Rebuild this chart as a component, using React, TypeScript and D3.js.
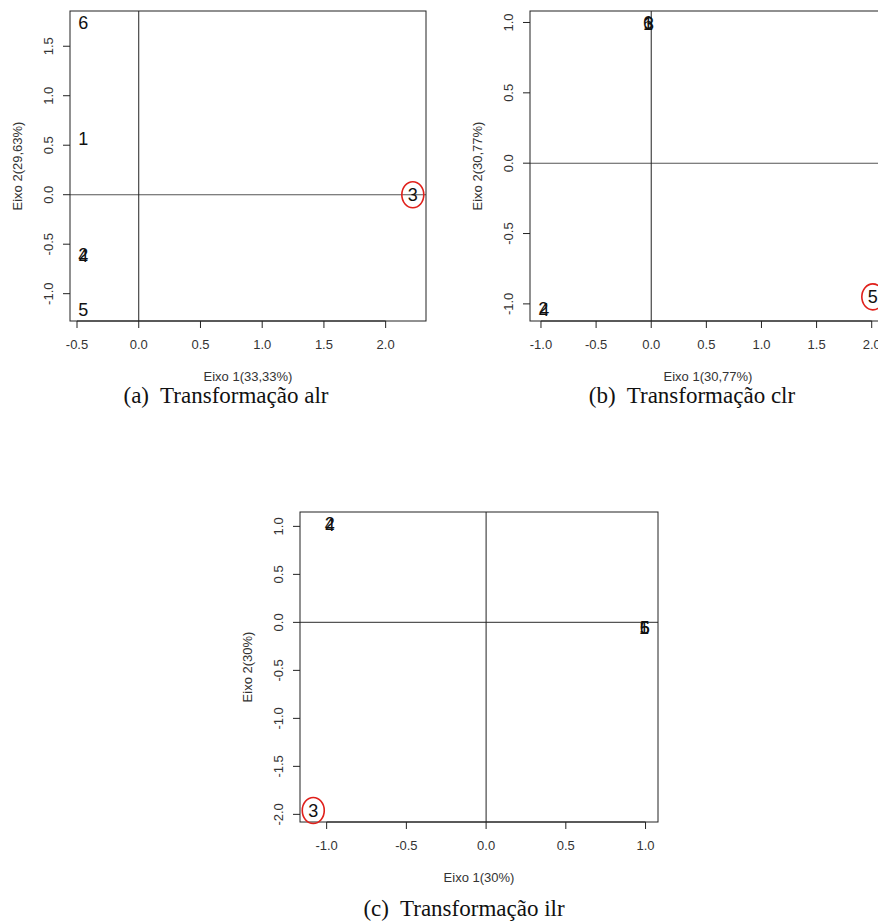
import React from "react";
import * as d3 from "d3";

// Sample labels shared by the three biplots
const labels = ["1", "2", "3", "4", "5", "6"];

// (a) alr coordinates
const alrX = [-0.45, -0.45, 2.22, -0.45, -0.45, -0.45];
const alrY = [0.57, -0.6, 0.0, -0.61, -1.16, 1.74];
const alrXTicks = [-0.5, 0.0, 0.5, 1.0, 1.5, 2.0];
const alrYTicks = [-1.0, -0.5, 0.0, 0.5, 1.0, 1.5];

// (b) clr coordinates
const clrX = [-0.03, -0.98, -0.02, -0.97, 2.01, -0.03];
const clrY = [0.99, -1.03, 0.99, -1.04, -0.95, 1.0];
const clrXTicks = [-1.0, -0.5, 0.0, 0.5, 1.0, 1.5, 2.0];
const clrYTicks = [-1.0, -0.5, 0.0, 0.5, 1.0];

// (c) ilr coordinates
const ilrX = [0.99, -0.98, -1.084, -0.98, 0.995, 0.995];
const ilrY = [-0.05, 1.03, -1.96, 1.02, -0.05, -0.05];
const ilrXTicks = [-1.0, -0.5, 0.0, 0.5, 1.0];
const ilrYTicks = [-2.0, -1.5, -1.0, -0.5, 0.0, 0.5, 1.0];

type PanelProps = {
  xs: number[];
  ys: number[];
  xTicks: number[];
  yTicks: number[];
  circled: string;
  xTitle: string;
  yTitle: string;
  left: number;
  top: number;
  width: number;
  height: number;
};

// R-style domain: data range padded by 4% on each side
function padded(vals: number[]): [number, number] {
  const [lo, hi] = d3.extent(vals) as [number, number];
  const pad = (hi - lo) * 0.04;
  return [lo - pad, hi + pad];
}

const sans = "'Liberation Sans', Arial, sans-serif";

function Panel(p: PanelProps) {
  const right = p.left + p.width;
  const bottom = p.top + p.height;
  const x = d3.scaleLinear().domain(padded(p.xs)).range([p.left, right]);
  const y = d3.scaleLinear().domain(padded(p.ys)).range([bottom, p.top]);
  const tickLen = 7;
  const cx = (p.left + right) / 2;
  const cy = (p.top + bottom) / 2;
  const pts = labels.map((l, i) => ({ l, px: x(p.xs[i]), py: y(p.ys[i]) }));
  return (
    <g>
      {/* reference lines through the origin */}
      <line x1={p.left} x2={right} y1={y(0)} y2={y(0)} stroke="#555" strokeWidth={1.1} />
      <line x1={x(0)} x2={x(0)} y1={p.top} y2={bottom} stroke="#222" strokeWidth={1} />
      {/* plot box */}
      <rect x={p.left} y={p.top} width={p.width} height={p.height} fill="none" stroke="#222" strokeWidth={1} />
      {/* x axis */}
      <line x1={x(p.xTicks[0])} x2={x(p.xTicks[p.xTicks.length - 1])} y1={bottom} y2={bottom} stroke="#222" />
      {p.xTicks.map((t) => (
        <g key={"x" + t}>
          <line x1={x(t)} x2={x(t)} y1={bottom} y2={bottom + tickLen} stroke="#222" />
          <text x={x(t)} y={bottom + 23} dy="0.35em" textAnchor="middle" fontSize={13} fontFamily={sans} fill="#333">
            {t.toFixed(1)}
          </text>
        </g>
      ))}
      {/* y axis */}
      {p.yTicks.map((t) => (
        <g key={"y" + t}>
          <line x1={p.left - tickLen} x2={p.left} y1={y(t)} y2={y(t)} stroke="#222" />
          <text
            transform={`translate(${p.left - 22},${y(t)}) rotate(-90)`}
            dy="0.35em"
            textAnchor="middle"
            fontSize={13}
            fontFamily={sans}
            fill="#333"
          >
            {t.toFixed(1)}
          </text>
        </g>
      ))}
      {/* axis titles */}
      <text x={cx} y={bottom + 55} dy="0.35em" textAnchor="middle" fontSize={13} fontFamily={sans} fill="#333">
        {p.xTitle}
      </text>
      <text
        transform={`translate(${p.left - 53},${cy}) rotate(-90)`}
        dy="0.35em"
        textAnchor="middle"
        fontSize={13}
        fontFamily={sans}
        fill="#333"
      >
        {p.yTitle}
      </text>
      {/* sample labels */}
      {pts.map((d) => (
        <text key={d.l} x={d.px} y={d.py} dy="0.36em" textAnchor="middle" fontSize={18} fontFamily={sans} fill="#111">
          {d.l}
        </text>
      ))}
      {/* highlighted sample */}
      {pts
        .filter((d) => d.l === p.circled)
        .map((d) => (
          <ellipse key={"c" + d.l} cx={d.px} cy={d.py} rx={11} ry={13} fill="none" stroke="#e0201b" strokeWidth={1.6} />
        ))}
    </g>
  );
}

const serif = "'Liberation Serif', 'Times New Roman', serif";

export default function App() {
  return (
    <svg
      width={878}
      height={922}
      style={{ position: "absolute", left: 0, top: 0, background: "#fff" }}
    >
      <rect width={878} height={922} fill="#fff" />
      <Panel
        xs={alrX}
        ys={alrY}
        xTicks={alrXTicks}
        yTicks={alrYTicks}
        circled="3"
        xTitle="Eixo 1(33,33%)"
        yTitle="Eixo 2(29,63%)"
        left={70}
        top={11}
        width={356}
        height={310}
      />
      <Panel
        xs={clrX}
        ys={clrY}
        xTicks={clrXTicks}
        yTicks={clrYTicks}
        circled="5"
        xTitle="Eixo 1(30,77%)"
        yTitle="Eixo 2(30,77%)"
        left={530}
        top={11}
        width={356}
        height={310}
      />
      <Panel
        xs={ilrX}
        ys={ilrY}
        xTicks={ilrXTicks}
        yTicks={ilrYTicks}
        circled="3"
        xTitle="Eixo 1(30%)"
        yTitle="Eixo 2(30%)"
        left={300}
        top={512}
        width={358}
        height={310}
      />
      <text x={226} y={395} dy="0.35em" textAnchor="middle" fontSize={23} fontFamily={serif} fill="#111" xmlSpace="preserve">
        (a)  Transformação alr
      </text>
      <text x={692} y={395} dy="0.35em" textAnchor="middle" fontSize={23} fontFamily={serif} fill="#111" xmlSpace="preserve">
        (b)  Transformação clr
      </text>
      <text x={464} y={908} dy="0.35em" textAnchor="middle" fontSize={23} fontFamily={serif} fill="#111" xmlSpace="preserve">
        (c)  Transformação ilr
      </text>
    </svg>
  );
}
